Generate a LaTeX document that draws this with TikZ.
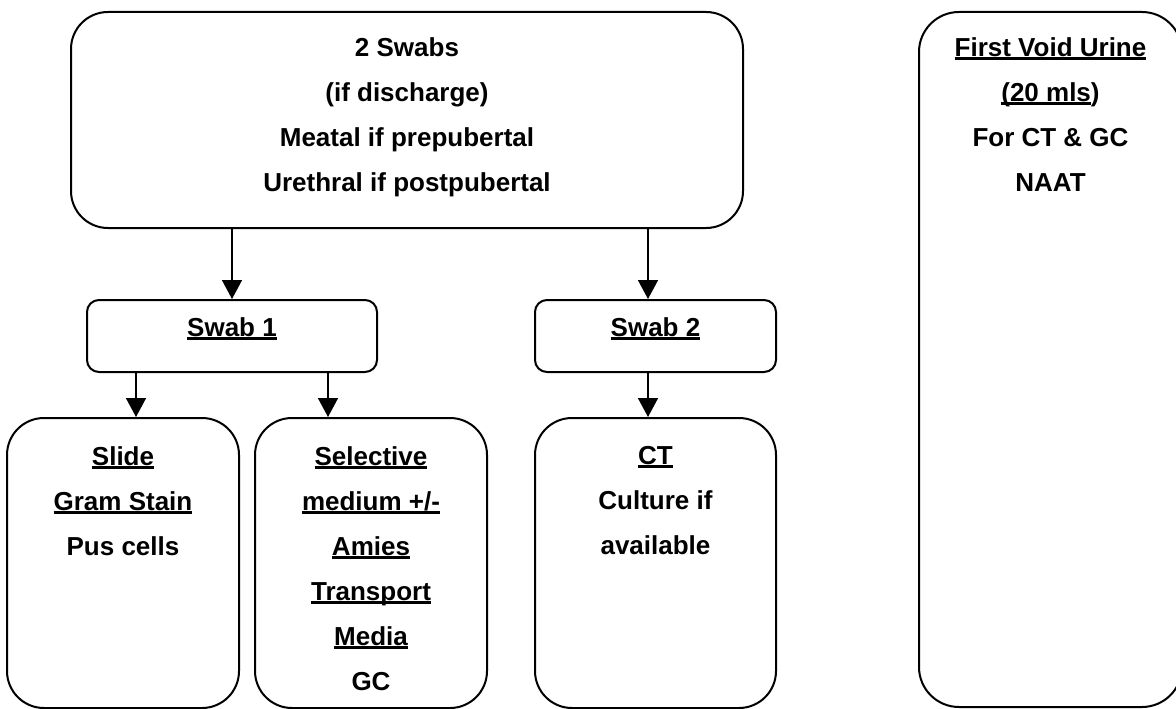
\documentclass[tikz,border=0pt]{standalone}
\usepackage{fontspec}
\setmainfont{Liberation Sans}
\usetikzlibrary{calc,positioning,arrows.meta}
\newsavebox{\ulnbox}
\newcommand{\uln}[1]{\sbox{\ulnbox}{#1}\rlap{\rule[-3.5pt]{\wd\ulnbox}{2.5pt}}\usebox{\ulnbox}}

\begin{document}
\begin{tikzpicture}[x=1pt,y=-1pt]

\tikzset{bigbox/.style={draw,line width=2pt,rounded corners=37pt,inner sep=0pt},
smallbox/.style={draw,line width=2pt,rounded corners=12pt,inner sep=0pt,minimum width=290pt,minimum height=72pt},
boxtext/.style={font=\bfseries\fontsize{26}{45}\selectfont,align=center,inner sep=0pt},
arr/.style={line width=1.6pt,-{Triangle[width=20pt,length=19pt]}}}

\useasboundingbox (0,0) rectangle (1176,709);

% Swab boxes
\node[bigbox,minimum width=672pt,minimum height=216pt] (swabs) at (407,120) {};
\node[smallbox] (swab1) at (232,336) {};
\node[smallbox,minimum width=241pt] (swab2) at (655.5,336) {};

% Result boxes
\node[bigbox,minimum width=232pt,minimum height=290pt] (slide) at (123,563) {};
\node[bigbox,minimum width=232pt,minimum height=290pt,right=14pt of slide] (selective) {};
\node[bigbox,minimum width=241pt,minimum height=290pt,right=46pt of selective] (ct) {};

% Urine box
\node[bigbox,rounded corners=40pt,minimum width=263pt,minimum height=695pt] (urine) at (1050.5,359.5) {};

% Texts
\node[boxtext,below=26pt of swabs.north] (swabsTxt) {2 Swabs\\(if discharge)\\Meatal if prepubertal\\Urethral if postpubertal};
\node[boxtext,below=18pt of swab1.north] (swab1Txt) {\uln{Swab 1}};
\node[boxtext,below=18pt of swab2.north] (swab2Txt) {\uln{Swab 2}};
\node[boxtext,below=29pt of slide.north] (slideTxt) {\uln{Slide}\\\uln{Gram Stain}\\Pus cells};
\node[boxtext,below=29pt of selective.north] (selectiveTxt) {\uln{Selective}\\\uln{medium +/-}\\\uln{Amies}\\\uln{Transport}\\\uln{Media}\\GC};
\node[boxtext,below=29pt of ct.north] (ctTxt) {\uln{CT}\\Culture if\\available};
\node[boxtext,below=26pt of urine.north] (urineTxt) {\uln{First Void Urine}\\\uln{(20 mls})\\For CT \& GC\\NAAT};

% Edges
\draw[arr] (swab1.north |- swabs.south) -- (swab1.north);
\draw[arr] ([xshift=-7.5pt]swab2.north |- swabs.south) -- ([xshift=-7.5pt]swab2.north);
\draw[arr] ([xshift=13pt]slide.north |- swab1.south) -- ([xshift=13pt]slide.north);
\draw[arr] ([xshift=-43pt]selective.north |- swab1.south) -- ([xshift=-43pt]selective.north);
\draw[arr] ([xshift=-7.5pt]ct.north |- swab2.south) -- ([xshift=-7.5pt]ct.north);

\end{tikzpicture}
\end{document}
